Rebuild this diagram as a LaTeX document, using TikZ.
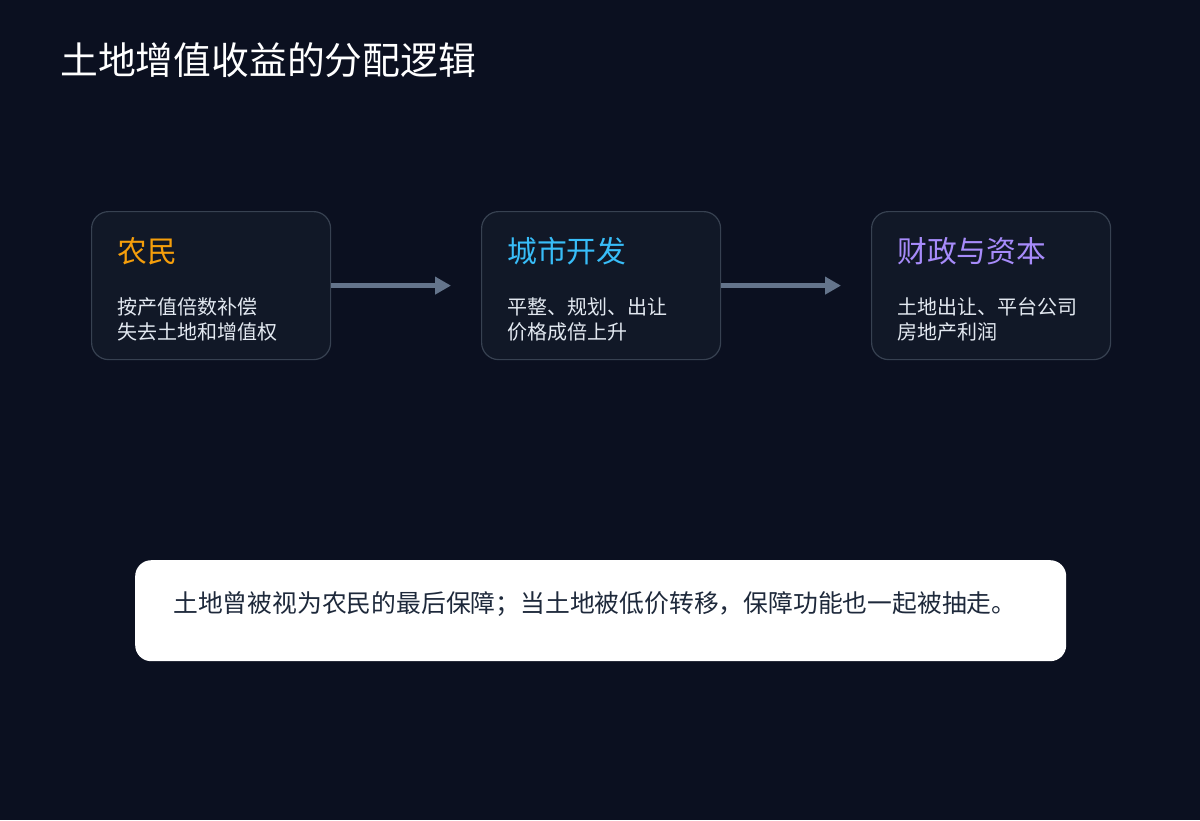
\documentclass[tikz,border=0pt]{standalone}
\usepackage{fontspec}
\setmainfont{Noto Sans CJK SC}
\usetikzlibrary{arrows.meta,positioning}
\definecolor{bg}{HTML}{0B1020}
\definecolor{boxfill}{HTML}{111827}
\definecolor{boxline}{HTML}{374151}
\definecolor{arrowc}{HTML}{64748B}
\definecolor{bodyc}{HTML}{E2E8F0}
\definecolor{orangec}{HTML}{F59E0B}
\definecolor{skyc}{HTML}{38BDF8}
\definecolor{purplec}{HTML}{A78BFA}
\definecolor{notec}{HTML}{1E293B}
\tikzset{
  card/.style={draw=boxline, line width=1.2pt, fill=boxfill, rounded corners=17pt,
    minimum width=239pt, minimum height=148pt, inner sep=0pt, anchor=north west},
  cardtitle/.style={anchor=west, inner sep=0pt, font=\fontsize{29.8}{34}\selectfont},
  cardbody/.style={anchor=west, inner sep=0pt, align=left, text=bodyc,
    font=\fontsize{20}{25}\selectfont},
  flow/.style={draw=arrowc, line width=4.5pt, -{Triangle[length=16pt,width=17pt]}},
  note/.style={fill=white, rounded corners=16pt, minimum width=931pt, minimum height=101pt,
    inner sep=0pt, anchor=north west},
}
\begin{document}
\begin{tikzpicture}[x=1pt,y=-1pt]
\fill[bg] (0,0) rectangle (1200,820);
\useasboundingbox (0,0) rectangle (1200,820);

\node[anchor=west, inner sep=0pt, text=white, font=\fontsize{37.8}{42}\selectfont] (title) at (60,60) {土地增值收益的分配逻辑};

\node[card] (b1) at (91,211) {};
\node[card] (b2) at (481,211) {};
\node[card] (b3) at (871,211) {};

\node[cardtitle, text=orangec] (t1) at (117,251) {农民};
\node[cardbody] (d1) at (117,319.5) {按产值倍数补偿\\失去土地和增值权};

\node[cardtitle, text=skyc] (t2) at (507,251) {城市开发};
\node[cardbody] (d2) at (507,319.5) {平整、规划、出让\\价格成倍上升};

\node[cardtitle, text=purplec] (t3) at (897,251) {财政与资本};
\node[cardbody] (d3) at (897,319.5) {土地出让、平台公司\\房地产利润};

\draw[flow] (b1.east) -- ([xshift=-30pt]b2.west);
\draw[flow] (b2.east) -- ([xshift=-30pt]b3.west);

\node[note] (nbox) at (135,560) {};
\node[anchor=west, inner sep=0pt, text=notec, font=\fontsize{24.8}{29}\selectfont] (ntext) at (173,603.5) {土地曾被视为农民的最后保障；当土地被低价转移，保障功能也一起被抽走。};
\end{tikzpicture}
\end{document}
